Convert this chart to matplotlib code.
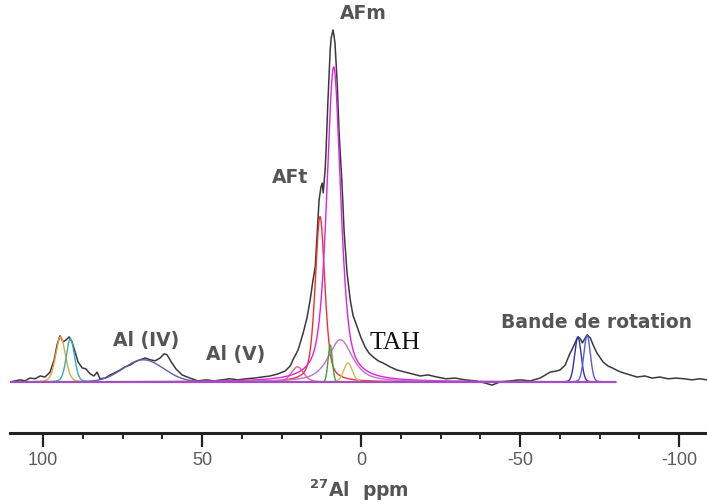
import numpy as np
import matplotlib
matplotlib.use("Agg")
import matplotlib.pyplot as plt
from matplotlib.ticker import MultipleLocator

plt.rcParams["axes.unicode_minus"] = False

spec_ppm = [110.4, 108.8, 107.2, 105.7, 104.1, 102.5, 100.9, 99.4, 97.8, 96.5, 95.6, 94.7, 93.7, 92.8,
            91.8, 90.9, 89.9, 89.0, 87.7, 86.5, 85.2, 84.0, 83.0, 82.1, 80.5, 78.9, 77.4, 75.8, 74.2,
            72.6, 71.1, 69.5, 67.9, 66.3, 64.8, 63.2, 61.9, 61.0, 59.7, 58.2, 56.3, 53.8, 51.3, 48.7,
            46.2, 43.7, 41.2, 38.7, 36.2, 33.6, 31.1, 28.6, 26.1, 23.9, 22.3, 21.4, 19.8, 18.2, 17.0,
            16.0, 15.1, 14.4, 13.8, 13.2, 12.6, 12.2, 11.9, 11.3, 11.0, 10.4, 9.7, 9.4, 8.8, 8.5, 8.2,
            7.5, 6.9, 6.0, 5.3, 4.4, 3.4, 2.5, 1.2, 0.0, -1.3, -2.5, -3.8, -5.4, -6.9, -9.1, -11.3,
            -13.9, -16.1, -18.6, -21.1, -23.9, -26.7, -29.6, -32.7, -35.9, -39.0, -41.2, -43.7, -46.9,
            -50.0, -53.2, -56.3, -59.5, -61.4, -62.6, -64.2, -65.5, -66.7, -67.7, -68.3, -69.0, -69.6,
            -70.5, -71.1, -72.1, -73.0, -74.2, -76.1, -77.7, -79.0, -80.9, -82.4, -84.6, -86.8, -89.3,
            -91.5, -94.0, -96.6, -99.1, -101.6, -104.1, -106.6, -108.8]
spec_int = [0.0, 0.3, 0.6, 0.3, 1.1, 0.9, 1.7, 1.4, 2.8, 6.3, 10.5, 13.1, 11.4, 11.9,
            12.8, 11.4, 8.5, 5.7, 4.0, 3.7, 2.3, 1.7, 2.8, 0.9, 1.1, 2.0, 2.6, 3.4, 4.3,
            4.8, 5.7, 6.3, 6.8, 6.3, 6.0, 6.8, 8.0, 7.7, 5.7, 3.7, 2.0, 1.1, 0.3, 0.6,
            0.3, 0.6, 0.9, 0.6, 0.9, 1.1, 1.4, 1.7, 2.3, 3.1, 4.5, 6.3, 9.1, 13.9, 18.2,
            23.3, 29.0, 32.7, 42.3, 51.7, 55.4, 56.5, 53.7, 60.2, 65.9, 80.1, 94.3, 97.7, 100.0, 98.3, 96.3,
            84.9, 70.7, 56.5, 42.3, 31.0, 23.3, 18.8, 15.6, 12.5, 9.9, 8.2, 7.1, 6.0, 5.4, 4.3, 3.4,
            2.8, 2.3, 1.7, 2.0, 1.4, 0.9, 1.1, 0.6, 0.3, -0.3, -0.9, 0.0, 0.3,
            0.6, 0.3, 1.1, 2.8, 3.1, 3.4, 4.8, 7.7, 9.9, 11.9, 12.8, 12.2, 11.1,
            12.5, 13.4, 12.5, 10.5, 8.2, 5.7, 4.5, 4.0, 3.1, 2.6, 2.0, 1.4, 1.7,
            1.1, 1.4, 0.9, 1.1, 0.9, 0.6, 0.9, 0.6]

# --- fitted components: centre (ppm), height, fwhm (ppm), lorentzian fraction, colour ---
comp_center = [94.5, 91.4, 68.5, 20.0, 12.9, 8.6, 6.5, 9.7, 4.1, -68.2, -71.1]
comp_height = [12.8, 12.3, 6.3, 4.3, 47.0, 89.5, 12.0, 10.5, 5.4, 12.8, 13.2]
comp_fwhm = [3.6, 3.0, 15.0, 4.5, 3.6, 5.2, 9.0, 1.6, 3.2, 2.4, 2.4]
comp_lor = [0.2, 0.2, 0.0, 0.3, 0.5, 0.6, 0.7, 0.0, 0.2, 0.1, 0.1]
comp_color = ["#f0a040", "#30b0b0", "#6060b0", "#f06090", "#f03030", "#e020e0",
              "#c070d0", "#40a040", "#c8c050", "#3030c0", "#5858e8"]

labels = ["AFm", "AFt", "Al (IV)", "Al (V)", "Bande de rotation"]
label_ppm = [-0.6, 22.3, 67.6, 39.3, -74.2]
label_int = [104.8, 58.0, 11.9, 7.7, 16.8]

fig = plt.figure(figsize=(7.07, 5.04), dpi=100)
ax = fig.add_axes([10 / 707, 71 / 504, 697 / 707, 433 / 504])

ax.plot(spec_ppm, spec_int, color="#3a3a3a", lw=1.1, zorder=2)

x = np.linspace(110, -80, 3000)
for c, h, w, eta, col in zip(comp_center, comp_height, comp_fwhm, comp_lor, comp_color):
    g = np.exp(-4 * np.log(2) * ((x - c) / w) ** 2)
    l = 1 / (1 + 4 * ((x - c) / w) ** 2)
    ax.plot(x, h * ((1 - eta) * g + eta * l), color=col, lw=1.0, zorder=3)
ax.plot([110.4, -80], [0, 0], color="#a050c0", lw=1.6, zorder=3)

ax.set_xlim(110.4, -108.8)
ax.set_ylim(-14.5, 108.5)

for s in ["top", "right", "left"]:
    ax.spines[s].set_visible(False)
ax.spines["bottom"].set_linewidth(2.2)
ax.spines["bottom"].set_color("#222222")
ax.set_yticks([])
ax.xaxis.set_major_locator(MultipleLocator(50))
ax.xaxis.set_minor_locator(MultipleLocator(12.5))
ax.tick_params(axis="x", which="major", length=10, width=1.6, color="#222222",
               labelsize=13, labelcolor="#5a5a5a", pad=4)
ax.tick_params(axis="x", which="minor", length=4, width=1.4, color="#222222")
for t in ax.get_xticklabels():
    t.set_family("Liberation Sans")

ax.set_xlabel(r"$^{\mathregular{27}}$Al  ppm", fontsize=13.5, color="#555555",
              family="DejaVu Sans", weight="bold", labelpad=6)

for txt, px, py in zip(labels, label_ppm, label_int):
    ax.text(px, py, txt, ha="center", va="center", fontsize=13.5, color="#555555",
            family="DejaVu Sans", weight="bold", clip_on=False)
ax.text(-10.7, 11.2, "TAH", ha="center", va="center", fontsize=18.5, color="#111111",
        family="Liberation Serif")

fig.savefig("out.png", dpi=100)
